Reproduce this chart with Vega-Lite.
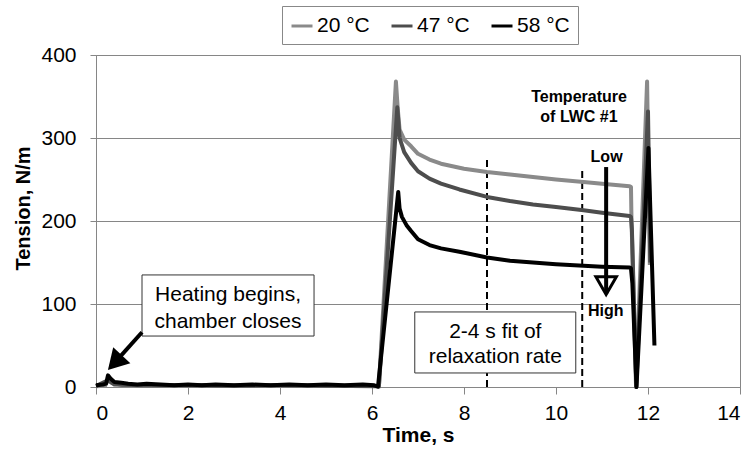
{
  "$schema": "https://vega.github.io/schema/vega-lite/v6.json",
  "width": 644,
  "height": 332,
  "autosize": {"type": "none"},
  "padding": {"left": 96, "top": 55, "right": 13, "bottom": 64},
  "background": "white",
  "config": {
    "font": "Liberation Sans",
    "view": {"stroke": "#868686", "strokeWidth": 1},
    "axis": {
      "domainColor": "#868686",
      "tickColor": "#868686",
      "gridColor": "#868686",
      "labelColor": "black",
      "titleColor": "black",
      "labelFontSize": 21,
      "titleFontSize": 20,
      "titleFontWeight": "bold"
    }
  },
  "datasets": {
    "series": [
      {"t": 0.0, "v": 1, "s": "20 °C"}, {"t": 0.2, "v": 1.5, "s": "20 °C"}, {"t": 0.26, "v": 9, "s": "20 °C"},
      {"t": 0.35, "v": 5, "s": "20 °C"}, {"t": 0.6, "v": 2, "s": "20 °C"}, {"t": 1.2, "v": 2, "s": "20 °C"},
      {"t": 2.0, "v": 1.5, "s": "20 °C"}, {"t": 2.6, "v": 2.5, "s": "20 °C"}, {"t": 3.2, "v": 1.5, "s": "20 °C"},
      {"t": 4.0, "v": 2, "s": "20 °C"}, {"t": 5.0, "v": 1.5, "s": "20 °C"}, {"t": 6.0, "v": 1.5, "s": "20 °C"},
      {"t": 6.15, "v": 1, "s": "20 °C"}, {"t": 6.52, "v": 368, "s": "20 °C"}, {"t": 6.56, "v": 335, "s": "20 °C"},
      {"t": 6.6, "v": 310, "s": "20 °C"}, {"t": 6.7, "v": 298, "s": "20 °C"}, {"t": 6.85, "v": 290, "s": "20 °C"},
      {"t": 7.0, "v": 281, "s": "20 °C"}, {"t": 7.25, "v": 274, "s": "20 °C"}, {"t": 7.5, "v": 269, "s": "20 °C"},
      {"t": 8.0, "v": 263, "s": "20 °C"}, {"t": 8.5, "v": 259, "s": "20 °C"}, {"t": 9.0, "v": 256, "s": "20 °C"},
      {"t": 9.5, "v": 253, "s": "20 °C"}, {"t": 10.0, "v": 250, "s": "20 °C"}, {"t": 10.6, "v": 247, "s": "20 °C"},
      {"t": 11.0, "v": 245, "s": "20 °C"}, {"t": 11.6, "v": 242, "s": "20 °C"}, {"t": 11.63, "v": 241, "s": "20 °C"},
      {"t": 11.64, "v": 205, "s": "20 °C"}, {"t": 11.74, "v": 0, "s": "20 °C"}, {"t": 11.98, "v": 368, "s": "20 °C"},
      {"t": 12.04, "v": 147, "s": "20 °C"},

      {"t": 0.0, "v": 1, "s": "47 °C"}, {"t": 0.26, "v": 8, "s": "47 °C"}, {"t": 0.4, "v": 3, "s": "47 °C"},
      {"t": 1.0, "v": 2, "s": "47 °C"}, {"t": 2.0, "v": 2, "s": "47 °C"}, {"t": 3.0, "v": 1.5, "s": "47 °C"},
      {"t": 4.0, "v": 2, "s": "47 °C"}, {"t": 5.0, "v": 1.5, "s": "47 °C"}, {"t": 6.1, "v": 1, "s": "47 °C"},
      {"t": 6.15, "v": 0.5, "s": "47 °C"}, {"t": 6.55, "v": 337, "s": "47 °C"}, {"t": 6.6, "v": 300, "s": "47 °C"},
      {"t": 6.7, "v": 283, "s": "47 °C"}, {"t": 6.85, "v": 270, "s": "47 °C"}, {"t": 7.0, "v": 260, "s": "47 °C"},
      {"t": 7.25, "v": 251, "s": "47 °C"}, {"t": 7.5, "v": 245, "s": "47 °C"}, {"t": 7.9, "v": 238, "s": "47 °C"},
      {"t": 8.5, "v": 229, "s": "47 °C"}, {"t": 9.0, "v": 224, "s": "47 °C"}, {"t": 9.5, "v": 220, "s": "47 °C"},
      {"t": 10.0, "v": 217, "s": "47 °C"}, {"t": 10.6, "v": 213, "s": "47 °C"}, {"t": 11.0, "v": 210, "s": "47 °C"},
      {"t": 11.6, "v": 206, "s": "47 °C"}, {"t": 11.63, "v": 205, "s": "47 °C"}, {"t": 11.65, "v": 190, "s": "47 °C"},
      {"t": 11.745, "v": 0, "s": "47 °C"}, {"t": 12.0, "v": 332, "s": "47 °C"}, {"t": 12.05, "v": 150, "s": "47 °C"},

      {"t": 0.0, "v": 2, "s": "58 °C"}, {"t": 0.15, "v": 3, "s": "58 °C"}, {"t": 0.22, "v": 4, "s": "58 °C"},
      {"t": 0.26, "v": 14, "s": "58 °C"}, {"t": 0.32, "v": 10, "s": "58 °C"}, {"t": 0.4, "v": 6, "s": "58 °C"},
      {"t": 0.55, "v": 5, "s": "58 °C"}, {"t": 0.7, "v": 4, "s": "58 °C"}, {"t": 0.9, "v": 3, "s": "58 °C"},
      {"t": 1.1, "v": 4, "s": "58 °C"}, {"t": 1.4, "v": 3, "s": "58 °C"}, {"t": 1.7, "v": 2, "s": "58 °C"},
      {"t": 2.0, "v": 3, "s": "58 °C"}, {"t": 2.3, "v": 2, "s": "58 °C"}, {"t": 2.6, "v": 3, "s": "58 °C"},
      {"t": 3.0, "v": 2, "s": "58 °C"}, {"t": 3.4, "v": 3, "s": "58 °C"}, {"t": 3.8, "v": 2, "s": "58 °C"},
      {"t": 4.2, "v": 3, "s": "58 °C"}, {"t": 4.6, "v": 2, "s": "58 °C"}, {"t": 5.0, "v": 3, "s": "58 °C"},
      {"t": 5.4, "v": 2, "s": "58 °C"}, {"t": 5.8, "v": 3, "s": "58 °C"}, {"t": 6.05, "v": 2, "s": "58 °C"},
      {"t": 6.13, "v": 0.5, "s": "58 °C"}, {"t": 6.57, "v": 235, "s": "58 °C"}, {"t": 6.6, "v": 215, "s": "58 °C"},
      {"t": 6.65, "v": 205, "s": "58 °C"}, {"t": 6.75, "v": 195, "s": "58 °C"}, {"t": 6.85, "v": 188, "s": "58 °C"},
      {"t": 7.0, "v": 178, "s": "58 °C"}, {"t": 7.25, "v": 171, "s": "58 °C"}, {"t": 7.5, "v": 167, "s": "58 °C"},
      {"t": 7.9, "v": 163, "s": "58 °C"}, {"t": 8.5, "v": 156, "s": "58 °C"}, {"t": 9.0, "v": 152, "s": "58 °C"},
      {"t": 9.5, "v": 150, "s": "58 °C"}, {"t": 10.0, "v": 148, "s": "58 °C"}, {"t": 10.6, "v": 146, "s": "58 °C"},
      {"t": 11.0, "v": 145, "s": "58 °C"}, {"t": 11.6, "v": 144, "s": "58 °C"}, {"t": 11.63, "v": 143, "s": "58 °C"},
      {"t": 11.66, "v": 125, "s": "58 °C"}, {"t": 11.75, "v": 0, "s": "58 °C"}, {"t": 12.01, "v": 288, "s": "58 °C"},
      {"t": 12.14, "v": 50, "s": "58 °C"}
    ],
    "fitWindow": [
      {"t": 8.5, "lo": 0, "hi": 278},
      {"t": 10.57, "lo": 0, "hi": 261}
    ],
    "boxes": [
      {"x1": 1.0, "x2": 4.74, "y1": 61.4, "y2": 135},
      {"x1": 6.93, "x2": 10.43, "y1": 16.9, "y2": 90.4}
    ],
    "boxText": [
      {"t": 2.87, "v": 110.8, "label": "Heating begins,"},
      {"t": 2.87, "v": 78.3, "label": "chamber closes"},
      {"t": 8.68, "v": 66.3, "label": "2-4 s fit of"},
      {"t": 8.68, "v": 36.1, "label": "relaxation rate"}
    ],
    "boldText": [
      {"t": 10.5, "v": 349, "label": "Temperature"},
      {"t": 10.5, "v": 325.6, "label": "of LWC #1"},
      {"t": 11.1, "v": 277, "label": "Low"},
      {"t": 11.08, "v": 91.6, "label": "High"}
    ],
    "shafts": [
      {"x1": 11.09, "y1": 265, "x2": 11.09, "y2": 112},
      {"x1": 1.0, "y1": 66, "x2": 0.5, "y2": 35}
    ],
    "heads": [
      {"t": 11.09, "v": 122, "angle": 180, "kind": "open"},
      {"t": 0.41, "v": 29.4, "angle": 223, "kind": "solid"}
    ]
  },
  "encoding": {},
  "layer": [
    {
      "data": {"name": "fitWindow"},
      "mark": {"type": "rule", "color": "black", "strokeWidth": 2, "strokeDash": [7, 4]},
      "encoding": {
        "x": {"field": "t", "type": "quantitative", "scale": {"domain": [0, 14]}},
        "y": {"field": "lo", "type": "quantitative", "scale": {"domain": [0, 400]}},
        "y2": {"field": "hi"}
      }
    },
    {
      "data": {"name": "series"},
      "mark": {"type": "line", "strokeWidth": 4, "strokeJoin": "round", "clip": false},
      "encoding": {
        "x": {
          "field": "t", "type": "quantitative",
          "scale": {"domain": [0, 14], "nice": false},
          "axis": {
            "title": "Time, s", "values": [0, 2, 4, 6, 8, 10, 12, 14],
            "grid": false, "tickSize": 7, "labelPadding": 8, "titlePadding": 1,
            "titleFontSize": 21
          }
        },
        "y": {
          "field": "v", "type": "quantitative",
          "scale": {"domain": [0, 400], "nice": false},
          "axis": {
            "title": "Tension, N/m", "values": [0, 100, 200, 300, 400],
            "grid": true, "tickSize": 6, "labelPadding": 14,
            "titleX": -73, "titleY": 153, "titleAngle": 270,
            "titleAlign": "center", "titleBaseline": "middle"
          }
        },
        "color": {
          "field": "s", "type": "nominal",
          "scale": {"domain": ["20 °C", "47 °C", "58 °C"], "range": ["#8a8a8a", "#4d4d4d", "#000000"]},
          "legend": {
            "title": null, "orient": "none", "legendX": 186, "legendY": -49,
            "direction": "horizontal", "symbolType": "stroke", "symbolSize": 441,
            "symbolStrokeWidth": 3, "labelFontSize": 21, "labelOffset": 3,
            "columnPadding": 15, "padding": 8, "strokeColor": "#888888",
            "fillColor": "white", "labelLimit": 0
          }
        },
        "order": {"field": "t", "type": "quantitative"}
      }
    },
    {
      "data": {"name": "boxes"},
      "mark": {"type": "rect", "fill": "white", "stroke": "#333333", "strokeWidth": 1},
      "encoding": {
        "x": {"field": "x1", "type": "quantitative"},
        "x2": {"field": "x2"},
        "y": {"field": "y1", "type": "quantitative"},
        "y2": {"field": "y2"}
      }
    },
    {
      "data": {"name": "boxText"},
      "mark": {"type": "text", "fontSize": 21, "align": "center", "baseline": "middle", "color": "black"},
      "encoding": {
        "x": {"field": "t", "type": "quantitative"},
        "y": {"field": "v", "type": "quantitative"},
        "text": {"field": "label"}
      }
    },
    {
      "data": {"name": "boldText"},
      "mark": {"type": "text", "fontSize": 16, "fontWeight": "bold", "align": "center", "baseline": "middle", "color": "black"},
      "encoding": {
        "x": {"field": "t", "type": "quantitative"},
        "y": {"field": "v", "type": "quantitative"},
        "text": {"field": "label"}
      }
    },
    {
      "data": {"name": "heads"},
      "transform": [{"filter": "datum.kind === 'open'"}],
      "mark": {"type": "point", "shape": "triangle-down", "size": 420, "filled": true, "fill": "white", "stroke": "black", "strokeWidth": 3, "opacity": 1},
      "encoding": {
        "x": {"field": "t", "type": "quantitative"},
        "y": {"field": "v", "type": "quantitative"}
      }
    },
    {
      "data": {"name": "shafts"},
      "mark": {"type": "rule", "color": "black", "strokeWidth": 4},
      "encoding": {
        "x": {"field": "x1", "type": "quantitative"},
        "y": {"field": "y1", "type": "quantitative"},
        "x2": {"field": "x2"},
        "y2": {"field": "y2"}
      }
    },
    {
      "data": {"name": "heads"},
      "transform": [{"filter": "datum.kind === 'solid'"}],
      "mark": {"type": "point", "shape": "triangle-up", "size": 550, "filled": true, "color": "black", "opacity": 1},
      "encoding": {
        "x": {"field": "t", "type": "quantitative"},
        "y": {"field": "v", "type": "quantitative"},
        "angle": {"field": "angle", "type": "quantitative", "scale": null}
      }
    }
  ]
}
